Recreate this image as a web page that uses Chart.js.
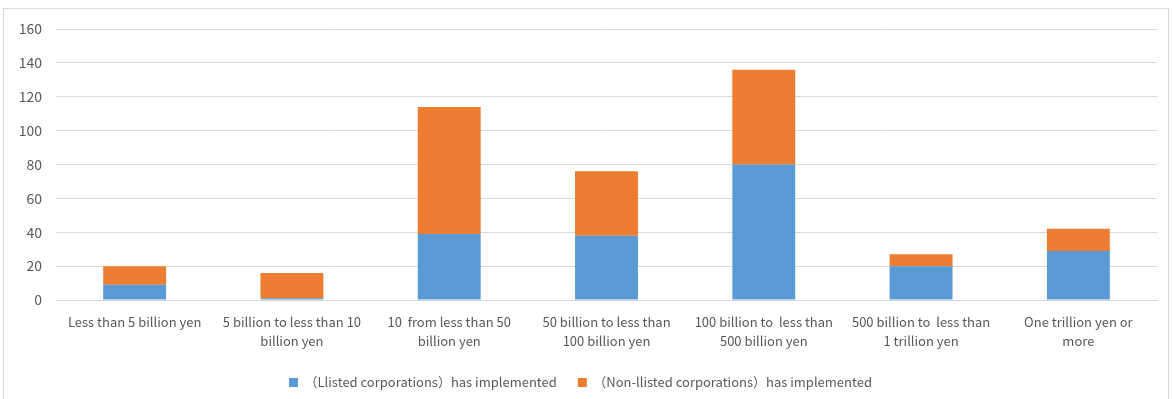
<!DOCTYPE html>
<html>
<head>
<meta charset="utf-8">
<script src="https://cdn.jsdelivr.net/npm/chart.js@4"></script>
<style>
    html, body { margin: 0; padding: 0; background: #fff; }
    .frame {
        position: absolute;
        left: 3px; top: 8px;
        width: 1166px; height: 400px;
        border: 1px solid #d9d9d9;
        box-sizing: border-box;
    }
    .wrap { position: absolute; left: 0; top: 0; width: 1172px; height: 399px; }
</style>
</head>
<body>
<div class="frame"></div>
<div class="wrap"><canvas id="sizeChart" width="1172" height="399"></canvas></div>
<script>
const categories = [
    "Less than 5 billion yen",
    ["5 billion to less than 10", "billion yen"],
    ["10  from less than 50", "billion yen"],
    ["50 billion to less than", "100 billion yen"],
    ["100 billion to  less than", "500 billion yen"],
    ["500 billion to  less than", "1 trillion yen"],
    ["One trillion yen or", "more"]
];

const listed = [9, 1, 39, 38, 80, 20, 29];
const nonListed = [11, 15, 75, 38, 56, 7, 13];

const yTicks = [0, 20, 40, 60, 80, 100, 120, 140, 160];

const fontFamily = "'Noto Sans CJK JP', 'Noto Sans', sans-serif";
const grey = "#595959";

new Chart(document.getElementById("sizeChart"), {
    type: "bar",
    data: {
        labels: categories,
        datasets: [{
            label: "（Llisted corporations）has implemented",
            data: listed,
            backgroundColor: "#5b9bd5",
            borderWidth: 0
        }, {
            label: "（Non-llisted corporations）has implemented",
            data: nonListed,
            backgroundColor: "#ed7d31",
            borderWidth: 0
        }]
    },
    options: {
        responsive: false,
        animation: false,
        layout: { padding: { left: 4, right: 15, top: 29, bottom: 0 } },
        datasets: {
            bar: { categoryPercentage: 1, barPercentage: 0.4 }
        },
        scales: {
            x: {
                stacked: true,
                grid: { display: false },
                border: { color: "#d9d9d9" },
                ticks: {
                    color: grey,
                    font: { family: fontFamily, size: 13, lineHeight: 1.5 },
                    maxRotation: 0,
                    autoSkip: false,
                    padding: 4
                }
            },
            y: {
                stacked: true,
                min: 0,
                max: 160,
                afterFit: scale => { scale.width = 52; },
                afterBuildTicks: scale => {
                    scale.ticks = yTicks.map(v => ({ value: v }));
                },
                grid: { color: "#d9d9d9", drawTicks: false },
                border: { display: false },
                ticks: {
                    color: grey,
                    font: { family: fontFamily, size: 14 },
                    padding: 14
                }
            }
        },
        plugins: {
            legend: {
                position: "bottom",
                maxHeight: 48,
                labels: {
                    color: grey,
                    font: { family: fontFamily, size: 13 },
                    boxWidth: 9,
                    boxHeight: 9,
                    padding: 21
                }
            },
            tooltip: { enabled: false }
        }
    }
});
</script>
</body>
</html>
